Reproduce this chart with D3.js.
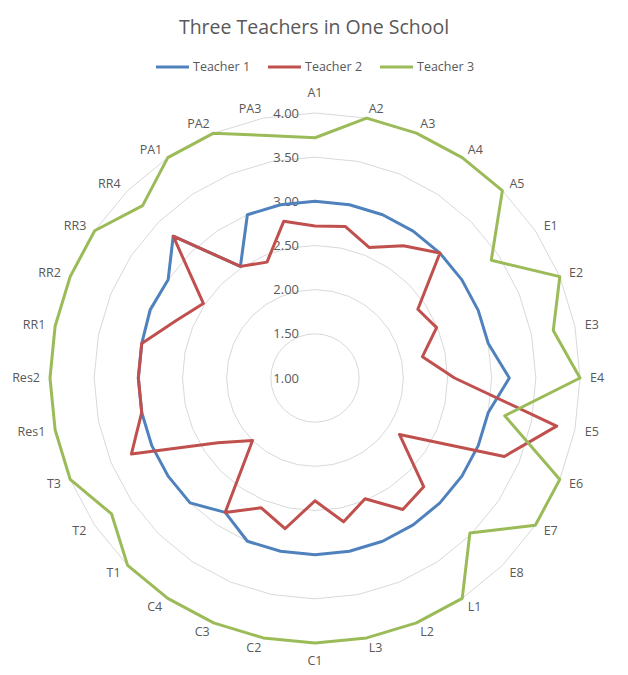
<!DOCTYPE html>
<html>
<head>
<meta charset="utf-8">
<script src="https://cdn.jsdelivr.net/npm/d3@7"></script>
<style>
  body { margin: 0; background: #fff; }
  text { font-family: "Open Sans", sans-serif; fill: #595959; }
</style>
</head>
<body>
<script>
const categories = ["A1","A2","A3","A4","A5","E1","E2","E3","E4","E5","E6","E7","E8",
    "L1","L2","L3","C1","C2","C3","C4","T1","T2","T3","Res1","Res2",
    "RR1","RR2","RR3","RR4","PA1","PA2","PA3"]
const teacher1 = [3.0,3.0,3.0,3.0,3.0,3.0,3.0,3.0,3.2,3.0,3.0,3.0,3.0,
    3.0,3.0,3.0,3.0,3.0,3.0,2.83,3.0,3.0,3.0,3.0,3.0,
    3.0,3.02,3.0,3.27,2.52,3.0,3.0]
const teacher2 = [2.72,2.75,2.6,2.8,3.0,2.4,2.49,2.24,2.58,3.79,3.32,2.15,2.74,
    2.79,2.48,2.66,2.39,2.74,2.59,2.83,2.0,2.32,3.25,3.0,3.0,
    3.0,2.7,2.52,3.27,2.52,2.42,2.81]
const teacher3 = [3.72,4.0,4.0,4.0,4.0,3.4,4.0,3.75,4.0,3.19,4.0,4.0,3.48,
    4.0,4.0,4.0,4.0,4.0,4.0,4.0,4.0,3.77,4.0,4.0,4.0,
    4.0,4.0,4.0,3.76,4.0,4.0,3.8]
const seriesNames = ["Teacher 1", "Teacher 2", "Teacher 3"]
const ticks = [1.0, 1.5, 2.0, 2.5, 3.0, 3.5, 4.0]

const width = 628, height = 675
const cx = 315, cy = 378, radius = 265
const colors = ["#4F81BD", "#C0504D", "#9BBB59"]

const svg = d3.select("body").append("svg")
    .attr("width", width)
    .attr("height", height)

const angle = d3.scaleBand()
    .domain(categories)
    .range([0, 2 * Math.PI])
    .paddingInner(0).paddingOuter(0).align(0)
const r = d3.scaleLinear()
    .domain([1, 4])
    .range([0, radius])

const chart = svg.append("g")
    .attr("transform", `translate(${cx},${cy})`)

// rings (polygons through every category)
const ring = d3.lineRadial()
    .angle(d => angle(d))
    .curve(d3.curveLinearClosed)
chart.append("g").selectAll("path")
    .data(ticks.slice(1))
    .join("path")
    .attr("d", t => ring.radius(r(t))(categories))
    .attr("fill", "none")
    .attr("stroke", "#D9D9D9")
    .attr("stroke-width", 1)

// value labels
chart.append("g").selectAll("text")
    .data(ticks)
    .join("text")
    .attr("x", -16)
    .attr("y", t => -r(t))
    .attr("dy", "0.35em")
    .attr("text-anchor", "end")
    .attr("font-size", 13)
    .text(d3.format(".2f"))

// category labels
chart.append("g").selectAll("text")
    .data(categories)
    .join("text")
    .each(function (c) {
        const a = angle(c)
        const s = Math.sin(a), co = Math.cos(a)
        const el = d3.select(this)
        if (Math.abs(s) < 0.05) {
            el.attr("x", 0)
              .attr("y", co > 0 ? -(radius + 20) : radius + 18)
              .attr("text-anchor", "middle")
        } else {
            el.attr("x", (radius + 10) * s)
              .attr("y", -(radius + 10) * co)
              .attr("text-anchor", s > 0 ? "start" : "end")
        }
    })
    .attr("dy", "0.35em")
    .attr("font-size", 12.5)
    .text(c => c)

// series
const series = [teacher1, teacher2, teacher3].map((vals, i) => ({
    name: seriesNames[i],
    points: categories.map((c, j) => ({ cat: c, v: vals[j] }))
}))
const line = d3.lineRadial()
    .angle(d => angle(d.cat))
    .radius(d => r(d.v))
    .curve(d3.curveLinearClosed)
chart.append("g").selectAll("path")
    .data(series)
    .join("path")
    .attr("d", d => line(d.points))
    .attr("fill", "none")
    .attr("stroke", (d, i) => colors[i])
    .attr("stroke-width", 3)
    .attr("stroke-linejoin", "round")

// title
svg.append("text")
    .attr("x", 314)
    .attr("y", 27)
    .attr("dy", "0.35em")
    .attr("text-anchor", "middle")
    .attr("font-size", 19.5)
    .text("Three Teachers in One School")

// legend
const legend = svg.append("g")
    .attr("transform", "translate(156,67)")
const itemStep = 112
const items = legend.selectAll("g")
    .data(seriesNames)
    .join("g")
    .attr("transform", (d, i) => `translate(${i * itemStep},0)`)
items.append("line")
    .attr("x1", 0).attr("x2", 33)
    .attr("stroke", (d, i) => colors[i])
    .attr("stroke-width", 3)
items.append("text")
    .attr("x", 37)
    .attr("dy", "0.35em")
    .attr("font-size", 12.5)
    .text(d => d)
</script>
</body>
</html>
